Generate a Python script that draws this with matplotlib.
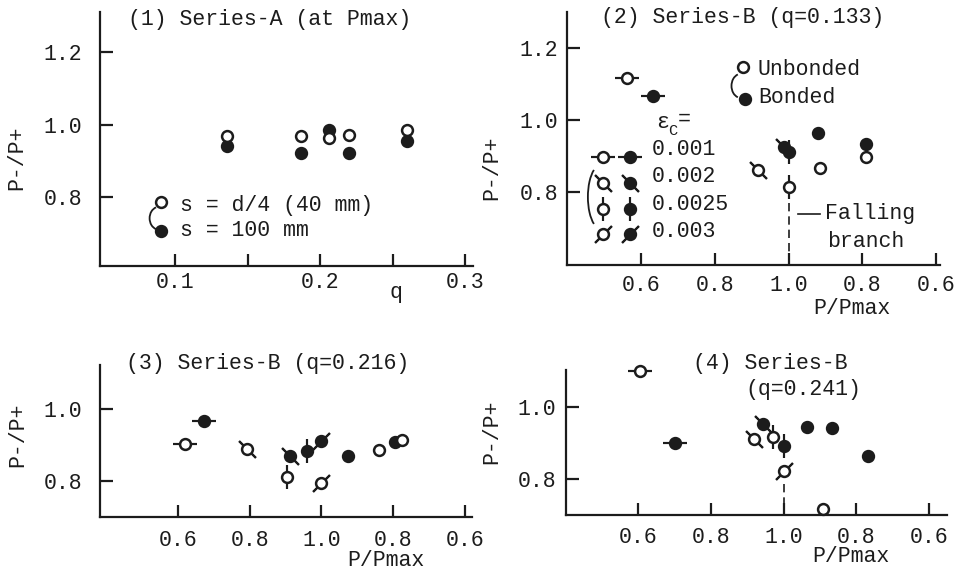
#!/usr/bin/env python3
"""
Cyclic load ratio P-/P+ for Series-A and Series-B specimens (four panels).
"""

import matplotlib
matplotlib.use('Agg')  # no display
import matplotlib.pyplot as plt
from matplotlib.patches import Arc

plt.rcParams['font.family'] = ['Liberation Mono', 'DejaVu Sans Mono']
plt.rcParams['font.size'] = 15.5

INK = '#1c1c1c'
W, H = 966, 572

# (1) Series-A at Pmax
q_a = [0.136, 0.187, 0.206, 0.220, 0.260]
ratio_s40 = [0.970, 0.970, 0.962, 0.972, 0.986]
ratio_s100 = [0.942, 0.923, 0.984, 0.923, 0.956]

# Series-B: P/Pmax, falling branch flag, P-/P+, bonded flag, eps_c code
# eps code: 'h'=0.001, 'b'=0.002, 'v'=0.0025, 'f'=0.003, ''=no mark
p2_pp = [0.562, 0.632, 0.918, 0.988, 1.000, 1.000, 0.921, 0.915, 0.790, 0.790]
p2_fall = [0, 0, 0, 0, 0, 0, 1, 1, 1, 1]
p2_ratio = [1.116, 1.065, 0.861, 0.924, 0.910, 0.813, 0.964, 0.866, 0.934, 0.896]
p2_bond = [0, 1, 0, 1, 1, 0, 1, 0, 1, 0]
p2_eps = ['h', 'h', 'b', 'b', 'v', 'v', '', '', '', '']

p3_pp = [0.618, 0.671, 0.792, 0.904, 0.911, 0.960, 1.000, 1.000, 0.926, 0.840, 0.795, 0.774]
p3_fall = [0, 0, 0, 0, 0, 0, 0, 0, 1, 1, 1, 1]
p3_ratio = [0.902, 0.967, 0.890, 0.811, 0.869, 0.884, 0.912, 0.794, 0.870, 0.886, 0.909, 0.915]
p3_bond = [0, 1, 0, 0, 1, 1, 1, 0, 1, 0, 1, 0]
p3_eps = ['h', 'h', 'b', 'v', 'b', 'v', 'f', 'f', '', '', '', '']

p4_pp = [0.605, 0.701, 0.918, 0.944, 0.971, 1.000, 1.000, 0.935, 0.868, 0.768, 0.891]
p4_fall = [0, 0, 0, 0, 0, 0, 0, 1, 1, 1, 1]
p4_ratio = [1.102, 0.900, 0.912, 0.953, 0.916, 0.893, 0.823, 0.944, 0.943, 0.865, 0.717]
p4_bond = [0, 1, 0, 1, 0, 1, 0, 1, 1, 1, 0]
p4_eps = ['h', 'h', 'b', 'b', 'v', 'v', 'f', '', '', '', '']

eps_labels = ['0.001', '0.002', '0.0025', '0.003']
eps_codes = ['h', 'b', 'v', 'f']
pp_ticks = [0.6, 0.8, 1.0, 1.2, 1.4]
pp_ticklabels = ['0.6', '0.8', '1.0', '0.8', '0.6']

ANGLE = {'h': 90, 'b': 45, 'v': 0, 'f': -45}


def px_axes(fig, left, top, right, bottom):
    return fig.add_axes([left / W, 1 - bottom / H, (right - left) / W, (bottom - top) / H])


def ftext(fig, px, py, s, **kw):
    kw.setdefault('va', 'center')
    kw.setdefault('color', INK)
    fig.text(px / W, 1 - py / H, s, **kw)


def style(ax, xlim, ylim, xticks, xlabels, yticks, xpad, ypad):
    for side in ('top', 'right'):
        ax.spines[side].set_visible(False)
    for side in ('left', 'bottom'):
        ax.spines[side].set_linewidth(1.6)
        ax.spines[side].set_color(INK)
    ax.set_xlim(*xlim)
    ax.set_ylim(*ylim)
    ax.set_xticks(xticks)
    ax.set_xticklabels(xlabels)
    ax.set_yticks(yticks)
    ax.set_yticklabels([f'{v:.1f}' for v in yticks])
    ax.tick_params(axis='both', direction='in', length=9, width=1.6, color=INK,
                   labelcolor=INK, labelsize=15.5)
    ax.tick_params(axis='x', pad=xpad)
    ax.tick_params(axis='y', pad=ypad)


def point(ax, x, y, bonded, code, **kw):
    if code:
        ax.plot(x, y, marker=(2, 2, ANGLE[code]), ms=17, mew=1.5, color=INK,
                ls='none', zorder=3, clip_on=False, **kw)
    ax.plot(x, y, marker='o', ms=7.8, mfc=INK if bonded else 'white', mec=INK,
            mew=1.8, ls='none', zorder=4, clip_on=False, **kw)


def series_b(ax, pp, fall, ratio, bond, eps):
    for p, f, r, b, e in zip(pp, fall, ratio, bond, eps):
        x = 2 - p if f else p
        point(ax, x, r, b, e)


def bracket(ax, cx, cy, w, h):
    ax.add_patch(Arc((cx, cy), w, h, theta1=100, theta2=260, transform=ax.transAxes,
                     color=INK, lw=1.3, clip_on=False))


def main():
    fig = plt.figure(figsize=(W / 100, H / 100), dpi=100)

    # (1) Series-A
    ax1 = px_axes(fig, 100, 12, 473, 266)
    ax1.plot(q_a, ratio_s40, 'o', ms=7.8, mfc='white', mec=INK, mew=1.8, zorder=4)
    ax1.plot(q_a, ratio_s100, 'o', ms=7.8, mfc=INK, mec=INK, mew=1.8, zorder=3)
    style(ax1, (0.048, 0.3055), (0.611, 1.31), [0.1, 0.15, 0.2, 0.25, 0.3],
          ['0.1', '', '0.2', '', '0.3'], [0.8, 1.0, 1.2], 4, 13)
    point(ax1, 0.164, 0.252, 0, '', transform=ax1.transAxes)
    point(ax1, 0.164, 0.138, 1, '', transform=ax1.transAxes)
    ax1.text(0.214, 0.240, 's = d/4 (40 mm)', transform=ax1.transAxes, va='center', color=INK)
    ax1.text(0.214, 0.140, 's = 100 mm', transform=ax1.transAxes, va='center', color=INK)
    bracket(ax1, 0.158, 0.188, 0.05, 0.09)
    ftext(fig, 128, 20, '(1) Series-A (at Pmax)')
    ftext(fig, 17, 158, 'P-/P+', rotation=90, ha='center')
    ftext(fig, 396, 293, 'q', ha='center')

    # (2) Series-B q=0.133
    ax2 = px_axes(fig, 567, 12, 940, 265)
    series_b(ax2, p2_pp, p2_fall, p2_ratio, p2_bond, p2_eps)
    style(ax2, (0.4, 1.41), (0.596, 1.30), pp_ticks, pp_ticklabels, [0.8, 1.0, 1.2], 7, 6.5)
    ax2.plot([1.0, 1.0], [0.768, 0.596], ls=(0, (5, 3)), lw=1.2, color=INK, zorder=2)
    ax2.plot([0.619, 0.678], [0.202, 0.202], lw=1.2, color=INK, transform=ax2.transAxes)
    ax2.text(0.692, 0.202, 'Falling', transform=ax2.transAxes, va='center', color=INK)
    ax2.text(0.697, 0.091, 'branch', transform=ax2.transAxes, va='center', color=INK)
    # bonded / unbonded key
    point(ax2, 0.472, 0.783, 0, '', transform=ax2.transAxes)
    point(ax2, 0.477, 0.656, 1, '', transform=ax2.transAxes)
    ax2.text(0.512, 0.771, 'Unbonded', transform=ax2.transAxes, va='center', color=INK)
    ax2.text(0.512, 0.664, 'Bonded', transform=ax2.transAxes, va='center', color=INK)
    bracket(ax2, 0.466, 0.708, 0.05, 0.095)
    # eps_c key
    ax2.text(0.255, 0.562, 'ε', transform=ax2.transAxes, ha='center', va='center', color=INK)
    ax2.text(0.283, 0.530, 'C', transform=ax2.transAxes, ha='center', va='center',
             color=INK, fontsize=11)
    ax2.text(0.314, 0.575, '=', transform=ax2.transAxes, ha='center', va='center', color=INK)
    marker_rows = [0.427, 0.324, 0.221, 0.123]
    text_rows = [0.455, 0.348, 0.241, 0.134]
    for lab, code, my, ty in zip(eps_labels, eps_codes, marker_rows, text_rows):
        point(ax2, 0.0965, my, 0, code, transform=ax2.transAxes)
        point(ax2, 0.169, my, 1, code, transform=ax2.transAxes)
        ax2.text(0.228, ty, lab, transform=ax2.transAxes, va='center', color=INK)
    bracket(ax2, 0.091, 0.269, 0.07, 0.253)
    ftext(fig, 601, 17, '(2) Series-B (q=0.133)')
    ftext(fig, 492, 168, 'P-/P+', rotation=90, ha='center')
    ftext(fig, 852, 308, 'P/Pmax', ha='center')

    # (3) Series-B q=0.216
    ax3 = px_axes(fig, 100, 365, 472, 517)
    series_b(ax3, p3_pp, p3_fall, p3_ratio, p3_bond, p3_eps)
    style(ax3, (0.382, 1.42), (0.699, 1.123), pp_ticks, pp_ticklabels, [0.8, 1.0], 9, 13)
    ftext(fig, 126, 363, '(3) Series-B (q=0.216)')
    ftext(fig, 18, 435, 'P-/P+', rotation=90, ha='center')
    ftext(fig, 386, 561, 'P/Pmax', ha='center')

    # (4) Series-B q=0.241
    ax4 = px_axes(fig, 566, 370, 947, 515)
    series_b(ax4, p4_pp, p4_fall, p4_ratio, p4_bond, p4_eps)
    style(ax4, (0.401, 1.449), (0.70, 1.104), pp_ticks, pp_ticklabels, [0.8, 1.0], 8.5, 7)
    ax4.plot([1.0, 1.0], [0.785, 0.70], ls=(0, (5, 3)), lw=1.2, color=INK, zorder=2)
    ftext(fig, 693, 363, '(4) Series-B')
    ftext(fig, 745, 389, '(q=0.241)')
    ftext(fig, 492, 432, 'P-/P+', rotation=90, ha='center')
    ftext(fig, 851, 557, 'P/Pmax', ha='center')

    fig.savefig('out.png', dpi=100)


if __name__ == '__main__':
    main()
